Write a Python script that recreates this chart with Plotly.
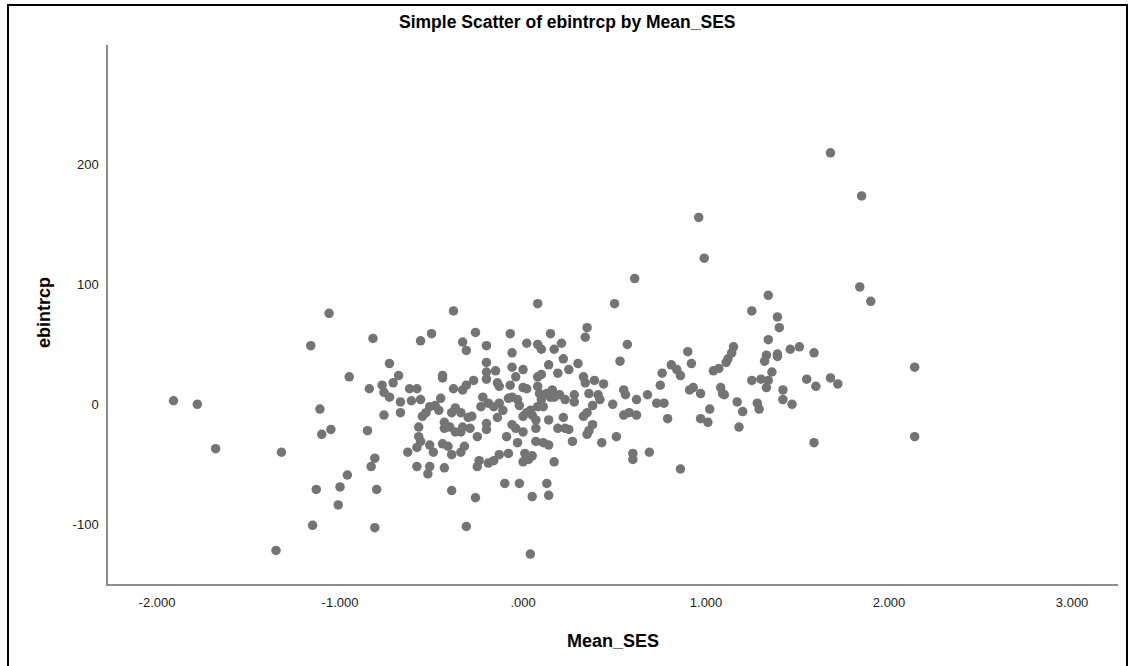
import plotly.graph_objects as go

# ---- data ----
mean_ses = [
    -1.06, -1.16, -0.82,
    0.61, 0.08, 0.50, -0.38,
    1.68, 1.85, 0.96, 0.99, 1.84, 1.90, 1.34, 1.25, 1.39, 1.40, 1.34,
    2.14, 2.14, 0.90, 0.92, 0.86, 1.15, 1.14, 1.12, 1.11, 1.04, 1.07, 1.33, 1.32, 1.39, 1.39,
    1.46, 1.51, 1.59, 1.36, 1.25, 1.30, 1.34, 1.33, 1.42, 1.42, 1.47, 1.55, 1.60, 1.68, 1.72,
    0.91, 0.93, 0.97, 1.08, 1.09, 1.10, 1.17, 1.20, 1.28, 1.29, 1.02, 0.97, 1.01, 1.18, 1.59,
    -1.91, -1.78, -1.68, -1.32, -1.35, -1.15, -1.13, -1.01, -1.00, -0.96, -1.11, -1.10, -1.05,
    -0.95, -0.85, -0.81, -0.83, -0.80, -0.81, -0.84, -0.76, -0.73, -0.77, -0.71, -0.73, -0.76,
    -0.67, -0.67, -0.68,
    -0.56, -0.50, -0.26, -0.33, -0.31, -0.20, -0.07, -0.06, 0.02, 0.08, 0.10, 0.15, 0.17, 0.21,
    0.35, 0.34, 0.57, 0.53, 0.22, 0.25, 0.30, 0.19, 0.14, -0.62, -0.58, -0.61, -0.56, -0.44,
    -0.44, -0.38, -0.33, -0.31, -0.27, -0.20, -0.20, -0.15, -0.20, -0.14, -0.13, -0.06, 0.00,
    -0.04, -0.07, 0.00, 0.02, 0.08, 0.10, 0.08, 0.09, 0.13, 0.15, 0.17, 0.20, 0.28, 0.28, 0.33,
    0.34, 0.39, 0.44, 0.36, 0.41, 0.42, 0.38, 0.49, 0.55, 0.56, 0.62, 0.68, 0.55, 0.58, 0.62,
    0.73, 0.77, 0.79, 0.81, 0.84, 0.76, 0.75, 0.51, 0.43, 0.60, 0.60, 0.69, 0.86, 0.33, 0.35,
    0.38, 0.36, 0.35, 0.27, 0.22, 0.19, 0.23, 0.25, 0.14, 0.07, 0.05, 0.00, 0.04, 0.08, 0.11,
    -0.04, 0.00, -0.03, -0.09, 0.07, 0.11, 0.14, 0.01, 0.03, 0.00, 0.05, 0.17, -0.08, -0.13,
    -0.16, -0.19, -0.24, -0.25, -0.10, -0.02, 0.05, 0.13, 0.14, -0.26, -0.31, 0.04, -0.39,
    -0.58, -0.51, -0.52, -0.43, -0.63, -0.58, -0.56, -0.57, -0.57, -0.55, -0.51, -0.49, -0.44,
    -0.41, -0.39, -0.34, -0.32, -0.43, -0.43, -0.40, -0.37, -0.34, -0.33, -0.29, -0.30, -0.28,
    -0.39, -0.34, -0.37, -0.46, -0.48, -0.51, -0.53, -0.45, -0.25, -0.23, -0.22, -0.19, -0.16,
    -0.13, -0.11, -0.08, -0.06, -0.03, -0.02, -0.20, -0.20, -0.14, -0.06, 0.02, 0.07, 0.10,
    0.16, 0.23,
]
ebintrcp = [
    76, 49, 55,
    105, 84, 84, 78,
    210, 174, 156, 122, 98, 86, 91, 78, 73, 64, 54,
    31, -27, 44, 34, 24, 48, 43, 38, 35, 28, 30, 41, 36, 42, 40,
    46, 48, 43, 27, 20, 21, 20, 14, 12, 4, 0, 21, 15, 22, 17,
    12, 14, 9, 14, 9, 8, 2, -6, 1, -4, -4, -12, -15, -19, -32,
    3, 0, -37, -40, -122, -101, -71, -84, -69, -59, -4, -25, -21,
    23, -22, -45, -52, -71, -103, 13, -9, 34, 16, 18, 6, 10,
    2, -7, 24,
    53, 59, 60, 52, 45, 49, 59, 43, 51, 50, 46, 59, 46, 51,
    64, 56, 50, 36, 38, 29, 34, 26, 33, 13, 13, 3, 4, 24,
    22, 13, 12, 16, 20, 35, 27, 28, 21, 18, 15, 31, 29,
    23, 16, 14, 13, 23, 25, 15, 9, 9, 6, 6, 8, 8, 2, 23,
    18, 20, 17, 9, 8, 4, -1, 0, 12, 8, 4, 8, -9, -7, -9,
    1, 1, -12, 33, 29, 26, 16, -27, -32, -41, -46, -40, -54, -10, -7,
    -17, -22, -25, -31, -11, -20, -20, -21, -13, -20, -9, -10, -5, -2, -2,
    -20, -23, -32, -27, -31, -32, -34, -41, -46, -48, -43, -48, -41, -42,
    -47, -49, -47, -52, -66, -66, -77, -66, -76, -78, -102, -125, -72,
    -52, -52, -58, -53, -40, -36, -31, -27, -19, -10, -34, -40, -33,
    -35, -42, -40, -35, -15, -20, -19, -23, -23, -19, -20, -11, -10,
    -7, -7, -3, -5, -1, -2, -7, 5, -27, -2, 6, 1, -2,
    1, -5, 5, 6, 4, -1, -16, -21, -11, -17, -7, -13, 4,
    12, 4,
]

x_tickvals = [-2, -1, 0, 1, 2, 3]
x_ticktext = ["-2.000", "-1.000", ".000", "1.000", "2.000", "3.000"]
y_tickvals = [-100, 0, 100, 200]
y_ticktext = ["-100", "0", "100", "200"]

W, H = 1133, 666
L, R, T, B = 108, 15, 45, 82
pw, ph = W - L - R, H - T - B

def px(xp):
    return (xp - L) / pw

def py(yp):
    return (H - B - yp) / ph

fig = go.Figure()
fig.add_trace(go.Scatter(
    x=mean_ses, y=ebintrcp, mode="markers",
    marker=dict(size=9.5, color="#747474", line=dict(width=0)),
    hoverinfo="x+y", showlegend=False,
))

axis_common = dict(
    showgrid=False, zeroline=False, showline=True,
    linecolor="#8c8c8c", linewidth=1.5, ticks="",
    tickfont=dict(family="Liberation Sans, Arial", size=13, color="#1a1a1a"),
)

fig.update_layout(
    width=W, height=H,
    margin=dict(l=L, r=R, t=T, b=B, pad=0),
    paper_bgcolor="white", plot_bgcolor="white",
    xaxis=dict(range=[-2.268, 3.251], tickvals=x_tickvals, ticktext=x_ticktext,
               ticklabelstandoff=6, **axis_common),
    yaxis=dict(range=[-150, 300], tickvals=y_tickvals, ticktext=y_ticktext,
               ticklabelstandoff=5, **axis_common),
    font=dict(family="Liberation Sans, Arial", color="#000"),
)

fig.add_annotation(text="<b>Simple Scatter of ebintrcp by Mean_SES</b>",
                   xref="paper", yref="paper", x=px(567), y=py(22),
                   xanchor="center", yanchor="middle", showarrow=False,
                   font=dict(family="Liberation Sans, Arial", size=17.5, color="#000"))
fig.add_annotation(text="<b>Mean_SES</b>",
                   xref="paper", yref="paper", x=px(613), y=py(641),
                   xanchor="center", yanchor="middle", showarrow=False,
                   font=dict(family="Liberation Sans, Arial", size=18, color="#000"))
fig.add_annotation(text="<b>ebintrcp</b>", textangle=-90,
                   xref="paper", yref="paper", x=px(44), y=py(313),
                   xanchor="center", yanchor="middle", showarrow=False,
                   font=dict(family="Liberation Sans, Arial", size=18, color="#000"))

# outer frame
fig.add_shape(type="rect", xref="paper", yref="paper",
              x0=px(8), x1=px(1127), y0=py(675), y1=py(5),
              line=dict(color="black", width=2), fillcolor="rgba(0,0,0,0)", layer="above")

fig.write_html("out.html")
